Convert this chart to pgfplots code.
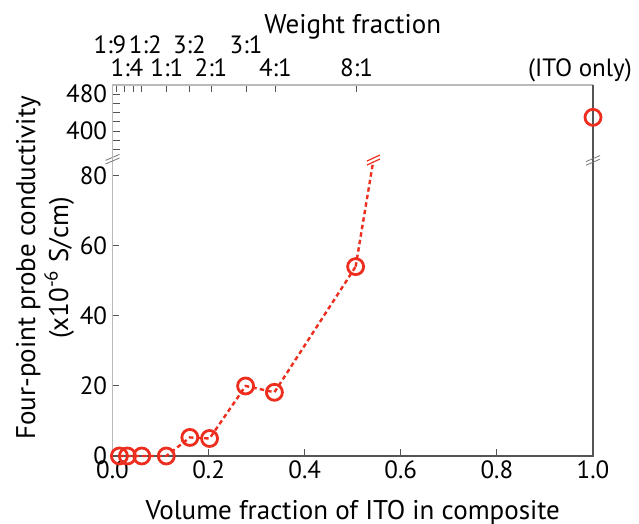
\documentclass[border=0pt]{standalone}
\usepackage{fontspec}
\setmainfont{PT Sans}
\usepackage{pgfplots}
\pgfplotsset{compat=1.18}

\definecolor{itored}{RGB}{237,45,30}
\definecolor{axlight}{RGB}{185,185,185}
\definecolor{axdark}{RGB}{85,85,85}

\pgfplotsset{
  brokenpart/.style={
    scale only axis, width=240.25pt,
    xmin=0, xmax=1, clip=false,
    axis line style={draw=none},
    tick align=inside,
    major tick length=3.5pt, minor tick length=3.5pt,
    tick style={axdark, line width=0.5pt},
    tick label style={font=\fontsize{12.5}{14}\selectfont},
    yticklabel style={inner sep=2.5pt},
    /pgf/number format/assume math mode=true,
  },
  redline/.style={itored, line width=1.2pt, dash pattern=on 2.2pt off 1.6pt},
  redmark/.style={mark=o, mark size=4pt, mark options={solid, line width=1.4pt}},
}

\begin{document}
\begin{tikzpicture}
\path[use as bounding box] (0,0) rectangle (319.5pt,262pt);

% lower part, 0 .. 85
\begin{axis}[brokenpart,
  at={(56.25pt,34pt)}, anchor=south west, height=149pt,
  ymin=0, ymax=85.14,
  xtick={0,0.2,0.4,0.6,0.8,1}, xtick pos=left,
  xticklabel style={inner sep=2pt, /pgf/number format/.cd, fixed, fixed zerofill, precision=1},
  ytick={0,20,40,60,80}, ytick pos=left,
  xlabel={Volume fraction of ITO in composite},
  xlabel style={at={(rel axis cs:0.5,0)}, anchor=base, yshift=-32pt,
    font=\fontsize{13.5}{16}\selectfont},
  ylabel={Four-point probe conductivity\\(x10\textsuperscript{-6} S/cm)},
  ylabel style={at={(rel axis cs:-0.1405,0.631)}, anchor=center, align=center,
    font=\fontsize{13.5}{16.5}\selectfont},
]
\draw[axlight, line width=0.9pt] (rel axis cs:0,0) -- (rel axis cs:0,1);
\draw[axdark, line width=0.8pt] (rel axis cs:0,0) -- (rel axis cs:1,0) -- (rel axis cs:1,1);

\addplot[redline, redmark] coordinates {
  (0.0144,0) (0.031,0) (0.061,0) (0.112,0) (0.161,5.3)
  (0.202,5.0) (0.277,20.0) (0.337,18.2) (0.506,54.1)
};
\addplot[redline] coordinates {(0.506,54.1) (0.542,83.7)};

% break marks
\draw[itored, line width=0.6pt]
  (axis cs:0.542,83.7) ++(-3pt,1pt) -- ++(6.5pt,3pt)
  (axis cs:0.542,83.7) ++(-3pt,-1pt) -- ++(6.5pt,3pt);
\draw[axdark!80, line width=0.4pt]
  (rel axis cs:0,1) ++(-3.5pt,-1.2pt) -- ++(7pt,3pt)
  (rel axis cs:0,1) ++(-3.5pt,-3pt) -- ++(7pt,3pt)
  (rel axis cs:1,1) ++(-3.5pt,-1.8pt) -- ++(7pt,3pt)
  (rel axis cs:1,1) ++(-3.5pt,-3.6pt) -- ++(7pt,3pt);
\end{axis}

% upper part, 342 .. 500
\begin{axis}[brokenpart,
  at={(56.25pt,183pt)}, anchor=south west, height=36.5pt,
  ymin=342, ymax=500,
  ytick={400,480}, minor ytick={360,380,420,440,460}, ytick pos=left,
  xtick={0.0073,0.026,0.0427,0.06,0.113,0.160,0.205,0.278,0.339,0.508,1},
  xtick pos=right, xticklabel pos=right,
  xticklabels={{\raisebox{11.5pt}{\kern-6pt 1:9}}, {\kern2pt 1:4}, {},
    {\raisebox{11.5pt}{\kern4pt 1:2}}, 1:1, {\raisebox{11.5pt}{3:2}}, 2:1,
    {\raisebox{11.5pt}{3:1}}, 4:1, 8:1, {\kern-13pt (ITO only)}},
  xticklabel style={anchor=base, inner sep=0pt, yshift=4pt},
  xlabel={Weight fraction},
  xlabel style={at={(rel axis cs:0.5,1)}, anchor=base, yshift=25.5pt,
    font=\fontsize{13.5}{16}\selectfont},
]
\draw[axlight, line width=0.9pt] (rel axis cs:0,0) -- (rel axis cs:0,1) -- (rel axis cs:1,1);
\draw[axdark, line width=0.8pt] (rel axis cs:1,1) -- (rel axis cs:1,0);

\addplot[only marks, itored, redmark] coordinates {(1,430)};
\end{axis}
\end{tikzpicture}
\end{document}
